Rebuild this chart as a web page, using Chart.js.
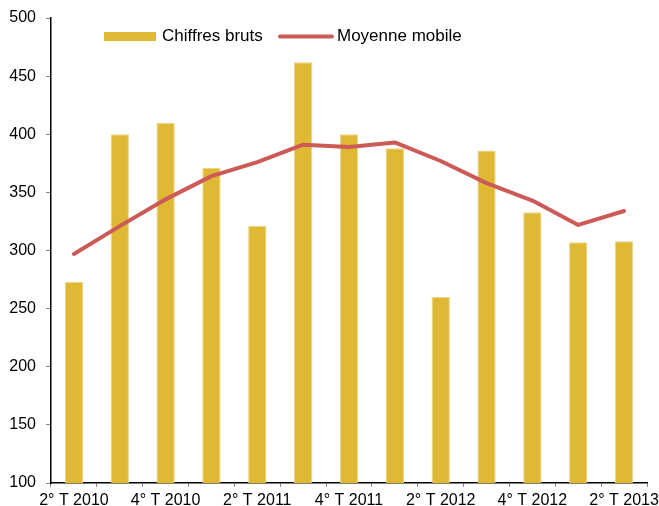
<!DOCTYPE html>
<html>
<head>
<meta charset="utf-8">
<script src="https://cdn.jsdelivr.net/npm/chart.js@4"></script>
<style>
  html, body { margin: 0; padding: 0; background: #fff; }
  #wrap { width: 659px; height: 506px; }
</style>
</head>
<body>
<div id="wrap"><canvas id="chart" width="659" height="506"></canvas></div>
<script>
const quarters = ['2° T 2010', '3° T 2010', '4° T 2010', '1° T 2011', '2° T 2011', '3° T 2011', '4° T 2011',
                  '1° T 2012', '2° T 2012', '3° T 2012', '4° T 2012', '1° T 2013', '2° T 2013'];
const rawValues = [273, 400, 410, 371, 321, 462, 400, 388, 260, 386, 333, 307, 308];
const movingAverage = [297, 321, 344, 364, 376, 391, 389, 393, 377, 358, 343, 322, 334];
const yTicks = [100, 150, 200, 250, 300, 350, 400, 450, 500];

const barColor = '#E0B934';
const lineColor = '#CC5B57';
const font = { family: 'Arial, "Liberation Sans", sans-serif', size: 16 };

// legend drawn by hand inside the plot, like the original
const legendInside = {
    id: 'legendInside',
    afterDraw(chart) {
        const ctx = chart.ctx;
        const y = 36.5;
        ctx.save();
        ctx.font = '17px Arial, "Liberation Sans", sans-serif';
        ctx.textBaseline = 'middle';

        ctx.fillStyle = barColor;
        ctx.fillRect(104, y - 4.5, 52, 9);
        ctx.fillStyle = '#000';
        ctx.fillText(chart.data.datasets[0].label, 162, y);

        ctx.strokeStyle = lineColor;
        ctx.lineWidth = 4;
        ctx.lineCap = 'round';
        ctx.beginPath();
        ctx.moveTo(280, y);
        ctx.lineTo(332, y);
        ctx.stroke();
        ctx.fillText(chart.data.datasets[1].label, 337, y);
        ctx.restore();
    }
};

let ctx = document.getElementById('chart').getContext('2d');
let chart = new Chart(ctx, {
    type: 'bar',
    data: {
        labels: quarters,
        datasets: [{
            type: 'bar',
            label: 'Chiffres bruts',
            data: rawValues,
            backgroundColor: barColor,
            borderColor: '#EED58A',
            borderWidth: { top: 1, left: 1, right: 1, bottom: 0 },
            categoryPercentage: 1,
            barPercentage: 0.4,
            order: 2
        }, {
            type: 'line',
            label: 'Moyenne mobile',
            data: movingAverage,
            borderColor: lineColor,
            borderWidth: 4,
            borderCapStyle: 'round',
            borderJoinStyle: 'round',
            tension: 0,
            pointRadius: 0,
            fill: false,
            order: 1
        }]
    },
    options: {
        responsive: false,
        animation: false,
        layout: { padding: { top: 18, right: 12, left: 0, bottom: 0 } },
        plugins: {
            legend: { display: false },
            tooltip: { enabled: false }
        },
        scales: {
            x: {
                offset: true,
                grid: {
                    offset: true,
                    drawOnChartArea: false,
                    drawTicks: true,
                    tickLength: 4,
                    color: '#888'
                },
                border: { color: '#000', width: 1.5 },
                ticks: {
                    autoSkip: false,
                    maxRotation: 0,
                    padding: 4,
                    color: '#000',
                    font: font,
                    callback: function (val, i) {
                        return i % 2 === 0 ? quarters[i] : '';
                    }
                },
                afterFit(scale) {
                    scale.height = 23;
                    scale.paddingLeft = 0;
                    scale.paddingRight = 0;
                }
            },
            y: {
                min: 100,
                max: 500,
                afterBuildTicks(scale) {
                    scale.ticks = yTicks.map(v => ({ value: v }));
                },
                grid: {
                    drawOnChartArea: false,
                    drawTicks: true,
                    tickLength: 5,
                    color: '#888'
                },
                border: { color: '#000', width: 1.5 },
                ticks: {
                    padding: 10,
                    color: '#000',
                    font: font
                },
                afterFit(scale) {
                    scale.width = 51;
                    scale.paddingTop = 0;
                    scale.paddingBottom = 0;
                }
            }
        }
    },
    plugins: [legendInside]
});
</script>
</body>
</html>
